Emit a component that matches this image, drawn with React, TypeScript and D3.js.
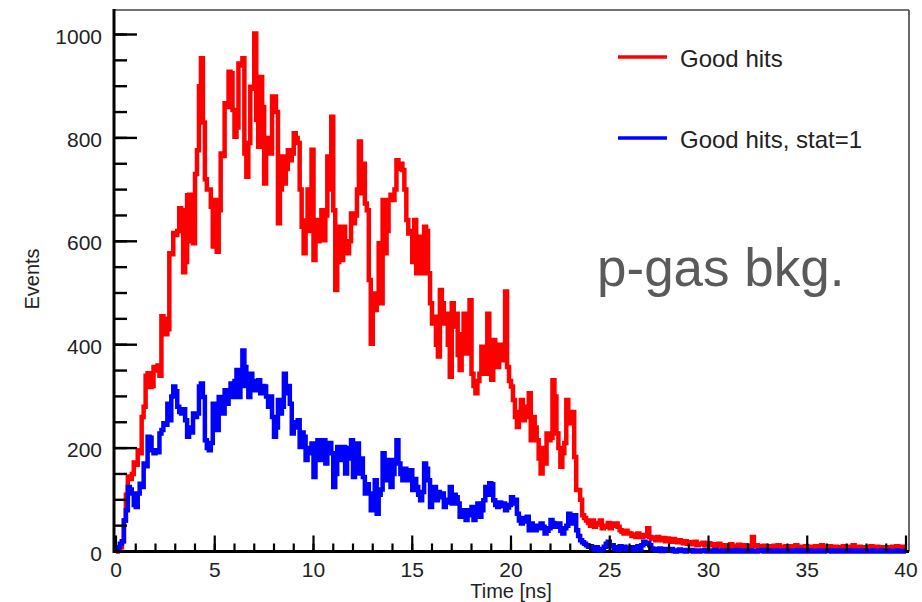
import React from "react";
import * as d3 from "d3";

// Histogram: 400 bins of 0.1 ns from 0 to 40 ns
const binWidth = 0.1;
const xDomain = [0, 40];
const yDomain = [0, 1000];

// "Good hits" (red)
const goodHits = [
  0, 2, 8, 20, 60, 110, 145, 140, 150, 172,
  168, 196, 190, 260, 280, 340, 345, 318, 320, 357,
  350, 360, 340, 455, 450, 420, 430, 577, 575, 616,
  612, 620, 664, 660, 540, 560, 689, 690, 600, 596,
  730, 776, 900, 954, 830, 720, 700, 700, 667, 590,
  680, 580, 660, 770, 765, 867, 860, 928, 925, 854,
  802, 820, 944, 940, 954, 770, 725, 790, 899, 895,
  1002, 835, 783, 918, 860, 712, 800, 796, 770, 880,
  880, 850, 635, 700, 764, 712, 740, 776, 757, 770,
  809, 800, 790, 700, 628, 577, 640, 700, 620, 777,
  564, 641, 600, 610, 660, 602, 650, 764, 700, 841,
  660, 506, 560, 628, 564, 628, 600, 577, 600, 654,
  635, 650, 700, 793, 693, 750, 673, 660, 525, 402,
  499, 467, 480, 596, 480, 680, 577, 620, 680, 690,
  680, 700, 757, 740, 750, 738, 700, 641, 615, 620,
  560, 641, 538, 609, 580, 538, 628, 620, 538, 480,
  441, 454, 400, 377, 506, 480, 441, 460, 400, 338,
  480, 435, 460, 380, 351, 420, 460, 383, 440, 486,
  344, 320, 306, 330, 344, 396, 370, 344, 460, 400,
  332, 409, 380, 357, 400, 380, 370, 503, 357, 330,
  319, 293, 260, 241, 270, 293, 254, 280, 260, 306,
  215, 260, 240, 215, 180, 151, 200, 170, 228, 215,
  220, 331, 300, 228, 200, 164, 190, 210, 293, 260,
  248, 270, 183, 119, 119, 100, 70, 65, 60, 55,
  50, 60, 48, 55, 52, 60, 45, 50, 48, 55,
  45, 54, 50, 54, 48, 41, 38, 35, 40, 36,
  35, 30, 33, 28, 35, 30, 28, 32, 30, 45,
  28, 25, 27, 22, 28, 24, 22, 26, 20, 25,
  22, 19, 24, 20, 18, 22, 19, 16, 20, 15,
  18, 14, 16, 19, 12, 15, 14, 17, 12, 14,
  16, 12, 14, 10, 13, 15, 11, 9, 12, 10,
  12, 14, 9, 11, 10, 13, 8, 10, 12, 9,
  11, 9, 28, 10, 12, 8, 10, 7, 11, 9,
  10, 8, 9, 11, 7, 12, 6, 9, 8, 10,
  9, 7, 10, 6, 12, 8, 9, 7, 6, 10,
  8, 6, 9, 7, 10, 5, 8, 12, 6, 9,
  7, 10, 8, 6, 9, 7, 5, 8, 10, 6,
  9, 6, 8, 12, 7, 5, 9, 6, 8, 7,
  6, 8, 10, 5, 7, 9, 6, 8, 5, 7,
  8, 5, 7, 9, 6, 10, 8, 6, 9, 7,
];

// "Good hits, stat=1" (blue)
const goodHitsStat1 = [
  2, 8, 15, 20, 60, 80, 125, 120, 112, 90,
  86, 112, 131, 125, 170, 165, 222, 220, 196, 190,
  196, 192, 228, 235, 248, 245, 286, 254, 300, 319,
  310, 280, 270, 267, 275, 254, 222, 240, 230, 267,
  260, 267, 319, 325, 299, 215, 200, 196, 210, 286,
  254, 235, 299, 280, 267, 312, 286, 300, 325, 299,
  330, 351, 299, 320, 389, 357, 320, 299, 344, 312,
  330, 312, 331, 306, 320, 319, 300, 280, 300, 260,
  222, 240, 293, 267, 280, 344, 306, 320, 286, 228,
  250, 240, 254, 202, 230, 222, 177, 200, 190, 209,
  144, 180, 215, 177, 200, 215, 170, 190, 210, 190,
  125, 150, 202, 177, 190, 202, 151, 180, 200, 215,
  144, 190, 209, 151, 180, 144, 112, 130, 112, 80,
  100, 138, 73, 110, 120, 190, 138, 160, 177, 125,
  150, 177, 215, 170, 150, 138, 160, 145, 138, 157,
  119, 140, 125, 110, 99, 115, 170, 160, 138, 86,
  110, 125, 99, 115, 105, 112, 86, 100, 95, 125,
  93, 110, 105, 93, 67, 80, 75, 61, 80, 70,
  86, 61, 75, 93, 67, 80, 99, 125, 110, 132,
  130, 99, 90, 86, 95, 88, 93, 80, 85, 90,
  105, 93, 100, 73, 60, 54, 65, 58, 67, 41,
  54, 48, 41, 50, 45, 54, 48, 35, 40, 45,
  61, 55, 48, 50, 54, 40, 35, 45, 50, 73,
  60, 54, 70, 41, 30, 22, 18, 15, 12, 9,
  10, 6, 4, 8, 3, 2, 5, 9, 15, 19,
  10, 12, 6, 8, 3, 10, 5, 9, 4, 7,
  5, 8, 3, 6, 10, 4, 12, 19, 15, 17,
  12, 6, 5, 2, 4, 6, 1, 3, 5, 2,
  3, 5, 1, 0, 2, 4, 1, 3, 0, 2,
  1, 3, 0, 2, 1, 0, 2, 1, 3, 0,
  2, 0, 1, 3, 0, 1, 2, 0, 1, 2,
  0, 1, 2, 0, 3, 1, 0, 2, 1, 0,
  1, 2, 0, 1, 0, 2, 1, 3, 0, 1,
  2, 0, 1, 0, 2, 1, 0, 1, 2, 0,
  1, 0, 2, 1, 0, 3, 1, 0, 2, 1,
  0, 2, 1, 0, 1, 0, 2, 1, 0, 1,
  2, 1, 0, 2, 1, 0, 1, 2, 0, 1,
  0, 1, 2, 0, 1, 2, 0, 1, 0, 2,
  1, 0, 1, 2, 0, 1, 0, 2, 1, 0,
  2, 1, 0, 1, 0, 2, 1, 0, 1, 0,
];

const xMajorTicks = [0, 5, 10, 15, 20, 25, 30, 35, 40];
const xMinorTicks = d3.range(0, 41, 1);
const yMajorTicks = [0, 200, 400, 600, 800, 1000];
const yMinorTicks = d3.range(0, 1001, 50);

const seriesNames = ["Good hits", "Good hits, stat=1"];
const seriesColors = ["#ff0000", "#0000ff"];

const FONT = "'Liberation Sans', Arial, Helvetica, sans-serif";

export default function App() {
  const W = 922;
  const H = 602;
  const left = 114;
  const right = 909;
  const top = 10;
  const bottom = 551.5;

  const x = d3.scaleLinear().domain(xDomain).range([116, 906]);
  const y = d3.scaleLinear().domain(yDomain).range([551.5, 34.5]);

  const makePath = (vals: number[]) => {
    const pts: [number, number][] = [[0, 0]];
    vals.forEach((v, i) => pts.push([i * binWidth, v]));
    pts.push([vals.length * binWidth, vals[vals.length - 1]]);
    const line = d3
      .line<[number, number]>()
      .x((d) => x(d[0]))
      .y((d) => y(d[1]))
      .curve(d3.curveStepAfter);
    return line(pts) || "";
  };

  return (
    <svg
      width={W}
      height={H}
      style={{ position: "absolute", left: 0, top: 0, background: "#fff" }}
      fontFamily={FONT}
    >
      <rect x={0} y={0} width={W} height={H} fill="#fff" />
      <defs>
        <clipPath id="plotClip">
          <rect x={left} y={top} width={right - left} height={bottom - top + 3} />
        </clipPath>
      </defs>

      {/* frame: top & right */}
      <line x1={left} y1={top} x2={right} y2={top} stroke="#444" strokeWidth={1.6} />
      <line x1={right} y1={top} x2={right} y2={bottom} stroke="#444" strokeWidth={1.6} />

      {/* axis lines */}
      <line x1={left} y1={top - 1} x2={left} y2={bottom + 1.5} stroke="#000" strokeWidth={3} />
      <line x1={left} y1={bottom} x2={right} y2={bottom} stroke="#000" strokeWidth={3} />

      {/* histograms */}
      <g clipPath="url(#plotClip)" fill="none" strokeWidth={4.5} strokeLinejoin="miter">
        <path d={makePath(goodHits)} stroke={seriesColors[0]} />
        <path d={makePath(goodHitsStat1)} stroke={seriesColors[1]} />
      </g>

      {/* y ticks */}
      <g stroke="#000" strokeWidth={2.4}>
        {yMinorTicks.map((t) => (
          <line key={"ym" + t} x1={left} x2={left + 13} y1={y(t)} y2={y(t)} />
        ))}
        {yMajorTicks.map((t) => (
          <line key={"yM" + t} x1={left} x2={left + 23} y1={y(t)} y2={y(t)} />
        ))}
      </g>
      {/* x ticks */}
      <g stroke="#000" strokeWidth={2.2}>
        {xMinorTicks.map((t) => (
          <line key={"xm" + t} x1={x(t)} x2={x(t)} y1={bottom} y2={bottom - 8} />
        ))}
        {xMajorTicks.map((t) => (
          <line key={"xM" + t} x1={x(t)} x2={x(t)} y1={bottom} y2={bottom - 16} />
        ))}
      </g>

      {/* tick labels */}
      <g fontSize={21} fill="#222">
        {yMajorTicks.map((t) => (
          <text key={"yl" + t} x={102} y={y(t) + 9} textAnchor="end">
            {t}
          </text>
        ))}
        {xMajorTicks.map((t) => (
          <text key={"xl" + t} x={x(t)} y={577} textAnchor="middle">
            {t}
          </text>
        ))}
      </g>

      {/* axis titles */}
      <text x={511} y={598} textAnchor="middle" fontSize={20} fill="#222">
        Time [ns]
      </text>
      <text
        transform="translate(39,279) rotate(-90)"
        textAnchor="middle"
        fontSize={20}
        fill="#222"
      >
        Events
      </text>

      {/* legend */}
      {seriesNames.map((name, i) => {
        const ly = i === 0 ? 57 : 138;
        return (
          <g key={name}>
            <line x1={618} x2={667} y1={ly} y2={ly} stroke={seriesColors[i]} strokeWidth={3.5} />
            <text x={680} y={ly + 10} fontSize={24} fill="#222">
              {name}
            </text>
          </g>
        );
      })}

      {/* annotation */}
      <text x={597} y={286} fontSize={53} fill="#5a5a5a">
        p-gas bkg.
      </text>
    </svg>
  );
}
